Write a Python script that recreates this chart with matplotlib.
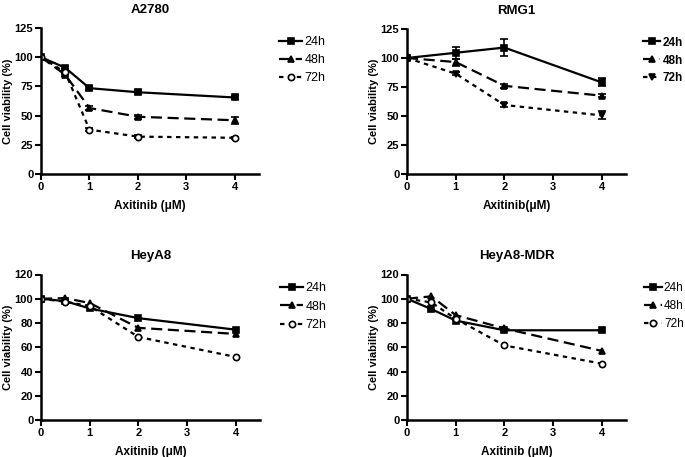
import matplotlib
matplotlib.use("Agg")
import matplotlib.pyplot as plt
from matplotlib.lines import Line2D

plt.rcParams['font.family'] = ['Liberation Sans', 'DejaVu Sans']

# ---- data ----
times = ["24h", "48h", "72h"]

a2780_x = [0, 0.5, 1, 2, 4]
a2780_24 = [100, 91, 73.5, 70, 65.5]
a2780_48 = [100, 85, 56.5, 49, 46]
a2780_72 = [100, 87, 38, 32, 31]
a2780_e24 = [1, 1.5, 1.5, 1.5, 1.5]
a2780_e48 = [1, 1.5, 1.5, 1.5, 3]
a2780_e72 = [1, 1, 1.5, 1, 1]

rmg1_x = [0, 1, 2, 4]
rmg1_24 = [100, 104.5, 109, 79]
rmg1_48 = [100, 96.5, 76, 67.5]
rmg1_72 = [100, 86.5, 59.5, 50.5]
rmg1_e24 = [2, 5, 7, 3.5]
rmg1_e48 = [1, 3, 1.5, 1.5]
rmg1_e72 = [1, 1.5, 1.5, 3.5]

heya8_x = [0, 0.5, 1, 2, 4]
heya8_24 = [100, 98, 92, 84, 74.5]
heya8_48 = [100, 100.5, 96.5, 76, 71]
heya8_72 = [100, 97.5, 94, 68.5, 52]

mdr_x = [0, 0.5, 1, 2, 4]
mdr_24 = [100, 91.5, 82, 74, 74]
mdr_48 = [100, 102, 86.5, 75.5, 57]
mdr_72 = [100, 97, 83.5, 61.5, 46.5]

titles = ["A2780", "RMG1", "HeyA8", "HeyA8-MDR"]
xlabels = ["Axitinib (\u03bcM)", "Axitinib(\u03bcM)", "Axitinib (\u03bcM)", "Axitinib (\u03bcM)"]
ylabel = "Cell viability (%)"
yticks_top = [0, 25, 50, 75, 100, 125]
yticks_bot = [0, 20, 40, 60, 80, 100, 120]
xticks = [0, 1, 2, 3, 4]

fig = plt.figure(figsize=(6.85, 4.57), dpi=100)

rects = [
    (41/685, (457-174)/457, 218/685, 146/457),
    (407/685, (457-174)/457, 219/685, 145/457),
    (41/685, (457-420)/457, 219/685, 145.5/457),
    (407/685, (457-420)/457, 219/685, 145.5/457),
]
leg_x = [1.07, 1.055, 1.07, 1.06]
leg_fs = [9, 8.5, 9, 8.5]
leg_hl = [1.8, 1.5, 1.8, 1.5]

styles = {
    "24h": dict(ls='-', marker='s'),
    "48h": dict(ls=(0, (5, 2.5)), marker='^'),
    "72h": dict(ls=(0, (2, 2)), marker='o'),
}

panels = [
    (a2780_x, [a2780_24, a2780_48, a2780_72], [a2780_e24, a2780_e48, a2780_e72], yticks_top, 'o', False),
    (rmg1_x, [rmg1_24, rmg1_48, rmg1_72], [rmg1_e24, rmg1_e48, rmg1_e72], yticks_top, 'v', True),
    (heya8_x, [heya8_24, heya8_48, heya8_72], [None, None, None], yticks_bot, 'o', False),
    (mdr_x, [mdr_24, mdr_48, mdr_72], [None, None, None], yticks_bot, 'o', False),
]

for i, (rect, (x, ys, errs, yt, m72, boldleg)) in enumerate(zip(rects, panels)):
    ax = fig.add_axes(rect)
    handles = []
    for t, y, e in zip(times, ys, errs):
        st = dict(styles[t])
        if t == "72h":
            st['marker'] = m72
        open_marker = (t == "72h" and m72 == 'o')
        kw = dict(color='black', lw=1.6, ls=st['ls'], marker=st['marker'],
                  ms=5 if st['marker'] != 'o' else 4.5,
                  mfc='white' if open_marker else 'black', mec='black', mew=1.2)
        ax.errorbar(x, y, yerr=e, capsize=3 if e is not None else 0,
                    elinewidth=1.2, capthick=1.2, **kw)
        handles.append(Line2D([], [], **kw))
    ax.set_xlim(0, 4.5)
    ax.set_ylim(0, yt[-1])
    ax.set_xticks(xticks)
    ax.set_yticks(yt)
    for s in ['top', 'right']:
        ax.spines[s].set_visible(False)
    for s in ['left', 'bottom']:
        ax.spines[s].set_linewidth(1.8)
    ax.tick_params(width=1.5, length=4, labelsize=8, pad=1.5)
    for lab in ax.get_xticklabels() + ax.get_yticklabels():
        lab.set_fontweight('bold')
    ax.set_title(titles[i], fontsize=9.5, fontweight='bold', pad=11)
    ax.set_xlabel(xlabels[i], fontsize=8.5, fontweight='bold', labelpad=6)
    ax.set_ylabel(ylabel, fontsize=8, fontweight='bold', labelpad=1)
    leg = ax.legend(handles, times, loc='upper left', bbox_to_anchor=(leg_x[i], 0.98),
                    frameon=False, fontsize=leg_fs[i], handlelength=leg_hl[i],
                    handletextpad=0.2, labelspacing=0.5, borderaxespad=0)
    if boldleg:
        for txt in leg.get_texts():
            txt.set_fontweight('bold')

fig.savefig("out.png", dpi=100)
